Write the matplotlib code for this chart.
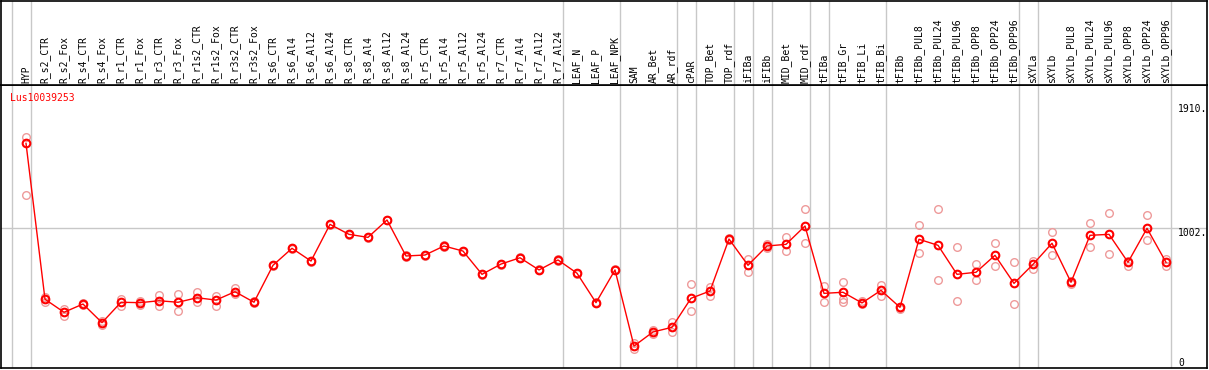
import matplotlib
matplotlib.use("Agg")
import matplotlib.pyplot as plt
import matplotlib.transforms as mtransforms

categories = ["HYP", "R_s2_CTR", "R_s2_Fox", "R_s4_CTR", "R_s4_Fox", "R_r1_CTR", "R_r1_Fox",
              "R_r3_CTR", "R_r3_Fox", "R_r1s2_CTR", "R_r1s2_Fox", "R_r3s2_CTR", "R_r3s2_Fox",
              "R_s6_CTR", "R_s6_Al4", "R_s6_Al12", "R_s6_Al24", "R_s8_CTR", "R_s8_Al4",
              "R_s8_Al12", "R_s8_Al24", "R_r5_CTR", "R_r5_Al4", "R_r5_Al12", "R_r5_Al24",
              "R_r7_CTR", "R_r7_Al4", "R_r7_Al12", "R_r7_Al24", "LEAF_N", "LEAF_P", "LEAF_NPK",
              "SAM", "AR_Bet", "AR_rdf", "cPAR", "TOP_Bet", "TOP_rdf", "iFIBa", "iFIBb",
              "MID_Bet", "MID_rdf", "tFIBa", "tFIB_Gr", "tFIB_Li", "tFIB_Bi", "tFIBb",
              "tFIBb_PUL8", "tFIBb_PUL24", "tFIBb_PUL96", "tFIBb_OPP8", "tFIBb_OPP24",
              "tFIBb_OPP96", "sXYLa", "sXYLb", "sXYLb_PUL8", "sXYLb_PUL24", "sXYLb_PUL96",
              "sXYLb_OPP8", "sXYLb_OPP24", "sXYLb_OPP96"]

mean_values = [1623, 484, 389, 449, 313, 462, 459, 473, 462, 495, 478, 539, 462,
               732, 856, 763, 1031, 958, 936, 1063, 800, 807, 873, 836, 666,
               741, 787, 698, 771, 674, 459, 698,
               142, 245, 279, 491, 544, 924, 732, 873, 885, 1019,
               527, 535, 457, 549, 425,
               922, 878, 666, 681, 805, 600,
               739, 893, 608, 951, 958, 754, 1002, 754]

rep_a = [1671, 503, 413, 454, 325, 484, 471, 517, 522, 537, 508, 568, 471,
         735, 860, 766, 1035, 962, 940, 1066, 804, 810, 877, 840, 670,
         745, 790, 702, 775, 678, 463, 702,
         167, 259, 316, 595, 576, 928, 780, 885, 936, 1141,
         583, 608, 468, 590, 411,
         1024, 1141, 863, 739, 893, 754,
         761, 975, 617, 1039, 1112, 763, 1097, 776]

rep_b = [1245, 466, 364, 442, 296, 435, 440, 437, 400, 462, 437, 522, 453,
         728, 852, 759, 1027, 954, 932, 1060, 796, 803, 869, 832, 662,
         737, 783, 694, 767, 670, 455, 694,
         118, 231, 245, 396, 510, 920, 681, 856, 834, 893,
         466, 486, 449, 508, 418,
         820, 622, 469, 622, 727, 447,
         707, 805, 596, 863, 812, 729, 915, 729]

extra_rep_cat = ["tFIB_Gr"]
extra_rep_val = [466]

group_breaks = [-1, 0, 28, 31, 34, 35, 37, 38, 39, 41, 42, 45, 52, 53, 60]

gene_label = "Lus10039253"
ytick_values = [1910, 1002, 0]
ytick_labels = ["1910.", "1002.", "0"]

W, H = 1209, 370
fig = plt.figure(figsize=(W / 100, H / 100), dpi=100)
mono = "DejaVu Sans Mono"

# geometry (pixels)
left_px, right_px = 1, 1207
plot_top_px, plot_bot_px = 85, 368
xmin = (left_px - 26) / 19
xmax = (right_px - 26) / 19
scale = 7.305
ymin = (365.5 - plot_bot_px) * scale
ymax = (365.5 - plot_top_px) * scale

ax = fig.add_axes([left_px / W, (H - plot_bot_px) / H, (right_px - left_px) / W,
                   (plot_bot_px - plot_top_px) / H])
ax_top = fig.add_axes([left_px / W, (H - plot_top_px) / H, (right_px - left_px) / W,
                       (plot_top_px - 0.5) / H])

for a in (ax, ax_top):
    a.set_xlim(xmin, xmax)
    a.set_xticks([])
    a.set_yticks([])
    for s in a.spines.values():
        s.set_color("black")
        s.set_linewidth(1.2)
    for g in group_breaks:
        a.axvline(g + 0.25, color="#c8c8c8", lw=1.0, zorder=0)

ax.set_ylim(ymin, ymax)
ax_top.set_ylim(0, 1)
ax.axhline(1002, color="#c8c8c8", lw=1.0, zorder=0)

x = list(range(len(categories)))
ax.plot(x, rep_a, ls="none", marker="o", ms=5.5, mfc="none", mec="#ee9a9a", mew=1.0, zorder=2)
ax.plot(x, rep_b, ls="none", marker="o", ms=5.5, mfc="none", mec="#ee9a9a", mew=1.0, zorder=2)
ax.plot([categories.index(c) for c in extra_rep_cat], extra_rep_val, ls="none", marker="o",
        ms=5.5, mfc="none", mec="#ee9a9a", mew=1.0, zorder=2)
ax.plot(x, mean_values, color="red", lw=1.0, zorder=3)
ax.plot(x, mean_values, ls="none", marker="o", ms=5.5, mfc="none", mec="red", mew=1.5, zorder=4)

trans_top = mtransforms.blended_transform_factory(ax_top.transData, ax_top.transAxes)
for i, lab in enumerate(categories):
    ax_top.text(i, 2.3 / 85, lab, rotation=90, ha="center", va="bottom",
                family=mono, fontsize=7, color="black", transform=trans_top)

ax.text(9 / (right_px - left_px), 1 - (101 - plot_top_px) / (plot_bot_px - plot_top_px),
        gene_label, transform=ax.transAxes, color="red", family=mono, fontsize=7,
        ha="left", va="baseline")

trans_r = mtransforms.blended_transform_factory(ax.transAxes, ax.transData)
xr = (1178 - left_px) / (right_px - left_px)
for v, lab in zip(ytick_values, ytick_labels):
    if v == 0:
        ax.text(xr, ymin, lab, transform=trans_r, family=mono, fontsize=7, ha="left", va="bottom")
    else:
        ax.text(xr, v, lab, transform=trans_r, family=mono, fontsize=7, ha="left", va="top")

fig.savefig("out.png", dpi=100)
